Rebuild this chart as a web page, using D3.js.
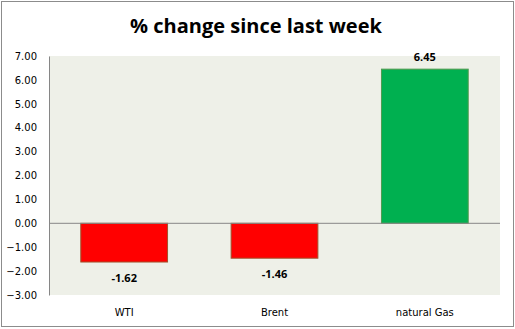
<!DOCTYPE html>
<html>
<head>
<meta charset="utf-8">
<script src="https://cdn.jsdelivr.net/npm/d3@7"></script>
<style>
  body { margin: 0; background: #fff; }
</style>
</head>
<body>
<div id="chart"></div>
<script>
const categories = ['WTI', 'Brent', 'natural Gas'];
const changes = [-1.62, -1.46, 6.45];
const yTicks = [-3, -2, -1, 0, 1, 2, 3, 4, 5, 6, 7];

const width = 515, height = 329;
const plot = {left: 49, right: 500, top: 56, bottom: 295};

const svg = d3.select('#chart').append('svg')
    .attr('width', width)
    .attr('height', height);

// outer frame
svg.append('rect')
    .attr('x', 1.5).attr('y', 1.5)
    .attr('width', 512).attr('height', 325)
    .attr('fill', '#fff')
    .attr('stroke', '#8c8c8c')
    .attr('stroke-width', 1);

// title
svg.append('text')
    .attr('x', 256).attr('y', 33)
    .attr('text-anchor', 'middle')
    .style('font-family', 'Open Sans, sans-serif')
    .style('font-weight', 'bold')
    .style('font-size', '20px')
    .text('% change since last week');

const x = d3.scaleBand().domain(categories).range([plot.left, plot.right]).paddingInner(0.423).paddingOuter(0.2115);
const y = d3.scaleLinear().domain([-3, 7]).range([plot.bottom, plot.top]);

// plot background
svg.append('rect')
    .attr('x', plot.left).attr('y', plot.top)
    .attr('width', plot.right - plot.left).attr('height', plot.bottom - plot.top)
    .attr('fill', '#eef0e8');

// y axis
const yAxis = d3.axisLeft(y).tickValues(yTicks).tickSize(0).tickPadding(12).tickFormat(d3.format('.2f'));
const gy = svg.append('g')
    .attr('transform', `translate(${plot.left}, 0)`)
    .call(yAxis);
gy.select('.domain').attr('stroke', '#868686');
gy.selectAll('text')
    .style('font-family', 'DejaVu Sans, Verdana, sans-serif')
    .style('font-size', '10px')
    .attr('fill', '#000');

// bars
svg.selectAll('.bar')
    .data(changes)
    .enter()
    .append('rect')
    .attr('class', 'bar')
    .attr('x', function (d, i) { return x(categories[i]); })
    .attr('width', x.bandwidth())
    .attr('y', function (d) { return y(Math.max(0, d)); })
    .attr('height', function (d) { return Math.abs(y(d) - y(0)); })
    .attr('fill', function (d) { return d < 0 ? '#ff0000' : '#00b050'; })
    .attr('stroke', function (d) { return d < 0 ? '#a0522d' : '#4f9a4f'; })
    .attr('stroke-width', 1);

// zero line
svg.append('line')
    .attr('x1', plot.left).attr('x2', plot.right)
    .attr('y1', y(0)).attr('y2', y(0))
    .attr('stroke', '#868686');

// value labels
svg.selectAll('.val')
    .data(changes)
    .enter()
    .append('text')
    .attr('class', 'val')
    .attr('x', function (d, i) { return x(categories[i]) + x.bandwidth() / 2; })
    .attr('y', function (d) { return d < 0 ? y(d) + 20 : y(d) - 8; })
    .attr('text-anchor', 'middle')
    .style('font-family', 'Open Sans, sans-serif')
    .style('font-weight', 'bold')
    .style('font-size', '11px')
    .text(function (d) { return d.toFixed(2); });

// category labels
svg.selectAll('.cat')
    .data(categories)
    .enter()
    .append('text')
    .attr('class', 'cat')
    .attr('x', function (d) { return x(d) + x.bandwidth() / 2; })
    .attr('y', 316)
    .attr('text-anchor', 'middle')
    .style('font-family', 'DejaVu Sans, Verdana, sans-serif')
    .style('font-size', '10px')
    .text(function (d) { return d; });
</script>
</body>
</html>
